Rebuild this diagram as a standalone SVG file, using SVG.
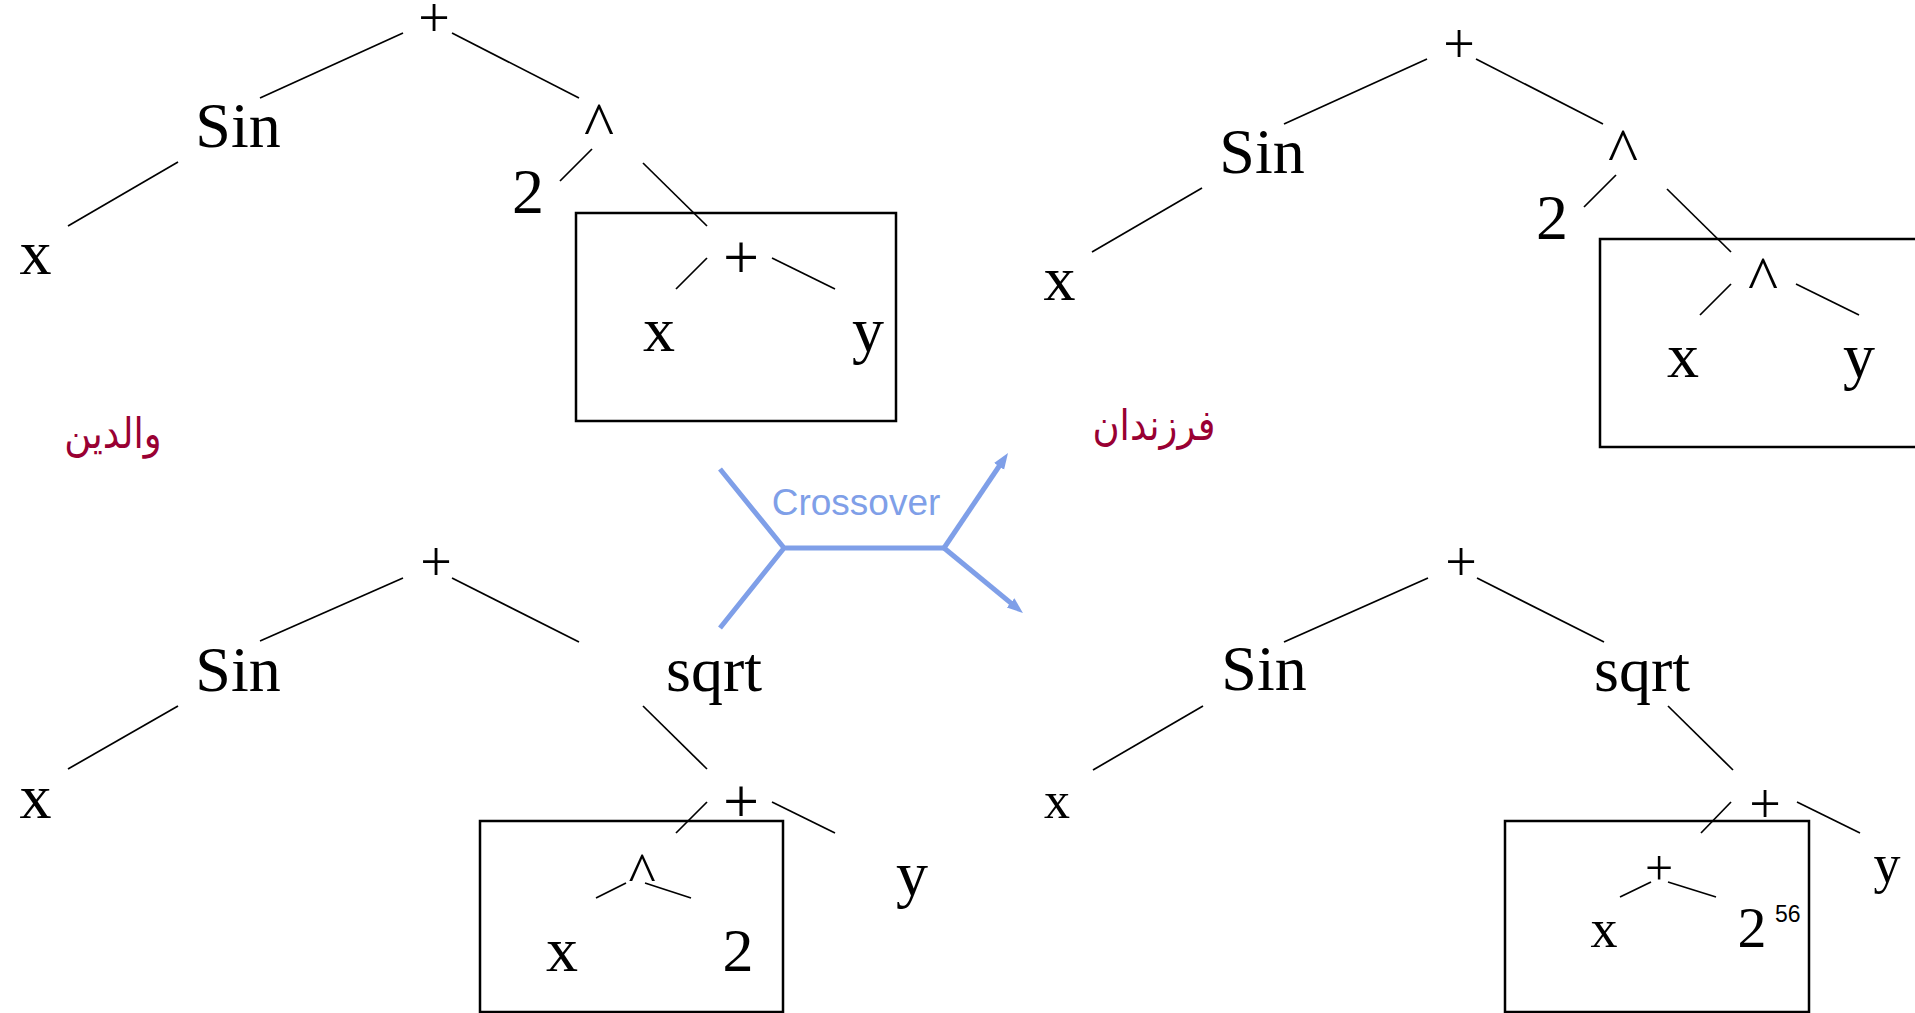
<svg xmlns="http://www.w3.org/2000/svg" width="1915" height="1013" viewBox="0 0 1915 1013">
  <style>
    .t { font-family: "Liberation Serif", "Times New Roman", serif; fill: #000; text-anchor: middle; }
    .b { font-size: 64px; }
    .e { stroke: #000; stroke-width: 1.7; fill: none; }
    .box { stroke: #000; stroke-width: 2.5; fill: none; }
    .fa { font-family: "DejaVu Sans", sans-serif; font-size: 37px; fill: #990033; text-anchor: middle; }
    .cx { stroke: #7f9fe8; stroke-width: 5; fill: none; }
    .cxt { font-family: "Liberation Sans", Arial, sans-serif; font-size: 37px; fill: #7f9fe8; }
  </style>
  <defs>
    <marker id="ah" markerUnits="userSpaceOnUse" markerWidth="20" markerHeight="16" viewBox="0 -8 20 16" refX="4" refY="0" orient="auto">
      <path d="M0,-6 L16,0 L0,6 z" fill="#7f9fe8"/>
    </marker>
  </defs>
  <rect width="1915" height="1013" fill="#fff"/>

  <!-- highlight boxes -->
  <g id="box-parent1"><rect class="box" x="576" y="213" width="320" height="208"/></g>
  <g id="box-child1"><rect class="box" x="1600" y="239" width="330" height="208"/></g>
  <g id="box-parent2"><rect class="box" x="480" y="821" width="303" height="191"/></g>
  <g id="box-child2"><rect class="box" x="1505" y="821" width="304" height="191"/></g>

  <g id="connectors">
    <!-- parent 1 -->
    <line class="e" x1="403" y1="33" x2="260" y2="98"/>
    <line class="e" x1="452" y1="33" x2="579" y2="98"/>
    <line class="e" x1="178" y1="162" x2="68" y2="226"/>
    <line class="e" x1="592" y1="149" x2="560" y2="181"/>
    <line class="e" x1="643" y1="163" x2="707" y2="226"/>
    <line class="e" x1="707" y1="258" x2="676" y2="289"/>
    <line class="e" x1="772" y1="258" x2="835" y2="289"/>
    <!-- child 1 -->
    <line class="e" x1="1427" y1="59" x2="1284" y2="124"/>
    <line class="e" x1="1476" y1="59" x2="1603" y2="124"/>
    <line class="e" x1="1202" y1="188" x2="1092" y2="252"/>
    <line class="e" x1="1616" y1="175" x2="1584" y2="207"/>
    <line class="e" x1="1667" y1="189" x2="1731" y2="252"/>
    <line class="e" x1="1731" y1="284" x2="1700" y2="315"/>
    <line class="e" x1="1796" y1="284" x2="1859" y2="315"/>
    <!-- parent 2 -->
    <line class="e" x1="403" y1="578" x2="260" y2="641"/>
    <line class="e" x1="452" y1="578" x2="579" y2="642"/>
    <line class="e" x1="178" y1="706" x2="68" y2="769"/>
    <line class="e" x1="643" y1="706" x2="707" y2="769"/>
    <line class="e" x1="707" y1="802" x2="676" y2="833"/>
    <line class="e" x1="772" y1="802" x2="835" y2="833"/>
    <line class="e" x1="626" y1="883" x2="596" y2="898"/>
    <line class="e" x1="645" y1="883" x2="691" y2="898"/>
    <!-- child 2 -->
    <line class="e" x1="1428" y1="578" x2="1284" y2="642"/>
    <line class="e" x1="1477" y1="578" x2="1604" y2="642"/>
    <line class="e" x1="1203" y1="706" x2="1093" y2="770"/>
    <line class="e" x1="1668" y1="706" x2="1733" y2="770"/>
    <line class="e" x1="1731" y1="802" x2="1701" y2="833"/>
    <line class="e" x1="1797" y1="802" x2="1860" y2="833"/>
    <line class="e" x1="1651" y1="882" x2="1620" y2="897"/>
    <line class="e" x1="1668" y1="882" x2="1716" y2="897"/>
  </g>

  <!-- parent 1 nodes -->
  <g id="p1-plus"><text class="t" x="434" y="37" font-size="56">+</text></g>
  <g id="p1-sin"><text class="t b" x="238" y="147">Sin</text></g>
  <g id="p1-pow"><text class="t b" x="599" y="146">^</text></g>
  <g id="p1-x"><text class="t b" x="35.5" y="274">x</text></g>
  <g id="p1-2"><text class="t b" x="528" y="213">2</text></g>
  <g id="p1-plus2"><text class="t b" x="741" y="279">+</text></g>
  <g id="p1-x2"><text class="t b" x="659" y="351">x</text></g>
  <g id="p1-y"><text class="t b" x="868" y="351">y</text></g>

  <!-- child 1 nodes -->
  <g id="c1-plus"><text class="t" x="1459" y="63" font-size="56">+</text></g>
  <g id="c1-sin"><text class="t b" x="1262" y="173">Sin</text></g>
  <g id="c1-pow"><text class="t b" x="1623" y="172">^</text></g>
  <g id="c1-x"><text class="t b" x="1059.5" y="300">x</text></g>
  <g id="c1-2"><text class="t b" x="1552" y="239">2</text></g>
  <g id="c1-pow2"><text class="t b" x="1763" y="300">^</text></g>
  <g id="c1-x2"><text class="t b" x="1683" y="377">x</text></g>
  <g id="c1-y"><text class="t b" x="1859" y="377">y</text></g>

  <!-- parent 2 nodes -->
  <g id="p2-plus"><text class="t" x="436" y="581" font-size="56">+</text></g>
  <g id="p2-sin"><text class="t b" x="238" y="691">Sin</text></g>
  <g id="p2-sqrt"><text class="t b" x="714" y="691">sqrt</text></g>
  <g id="p2-x"><text class="t b" x="35.5" y="818">x</text></g>
  <g id="p2-plus2"><text class="t b" x="741" y="823">+</text></g>
  <g id="p2-y"><text class="t b" x="912" y="895">y</text></g>
  <g id="p2-pow"><text class="t" x="642" y="892" font-size="58">^</text></g>
  <g id="p2-x2"><text class="t b" x="562" y="971">x</text></g>
  <g id="p2-2"><text class="t" x="738" y="971" font-size="62">2</text></g>

  <!-- child 2 nodes -->
  <g id="c2-plus"><text class="t" x="1461" y="581" font-size="56">+</text></g>
  <g id="c2-sin"><text class="t b" x="1264" y="690">Sin</text></g>
  <g id="c2-sqrt"><text class="t b" x="1642" y="691">sqrt</text></g>
  <g id="c2-x"><text class="t" x="1057" y="818" font-size="52">x</text></g>
  <g id="c2-plus2"><text class="t" x="1765" y="823" font-size="56">+</text></g>
  <g id="c2-y"><text class="t" x="1887" y="882" font-size="54">y</text></g>
  <g id="c2-plus3"><text class="t" x="1659" y="885" font-size="50">+</text></g>
  <g id="c2-x2"><text class="t" x="1604" y="947" font-size="54">x</text></g>
  <g id="c2-2"><text class="t" x="1752" y="947" font-size="58">2</text></g>
  <g id="c2-56"><text x="1775" y="922" font-family="Liberation Sans, Arial, sans-serif" font-size="23" fill="#000">56</text></g>

  <!-- labels -->
  <g id="label-parents"><text class="fa" transform="translate(113,448) scale(1,1.15)">والدين</text></g>
  <g id="label-children"><text class="fa" transform="translate(1154,440) scale(1,1.15)">فرزندان</text></g>

  <!-- crossover -->
  <g id="crossover">
    <path class="cx" d="M720,469 L784,548 L720,628 M784,548 L944,548"/>
    <line class="cx" x1="944" y1="548" x2="1001.3" y2="463" marker-end="url(#ah)"/>
    <line class="cx" x1="944" y1="548" x2="1013.7" y2="605.4" marker-end="url(#ah)"/>
    <text class="cxt" x="856" y="515" text-anchor="middle">Crossover</text>
  </g>
</svg>
